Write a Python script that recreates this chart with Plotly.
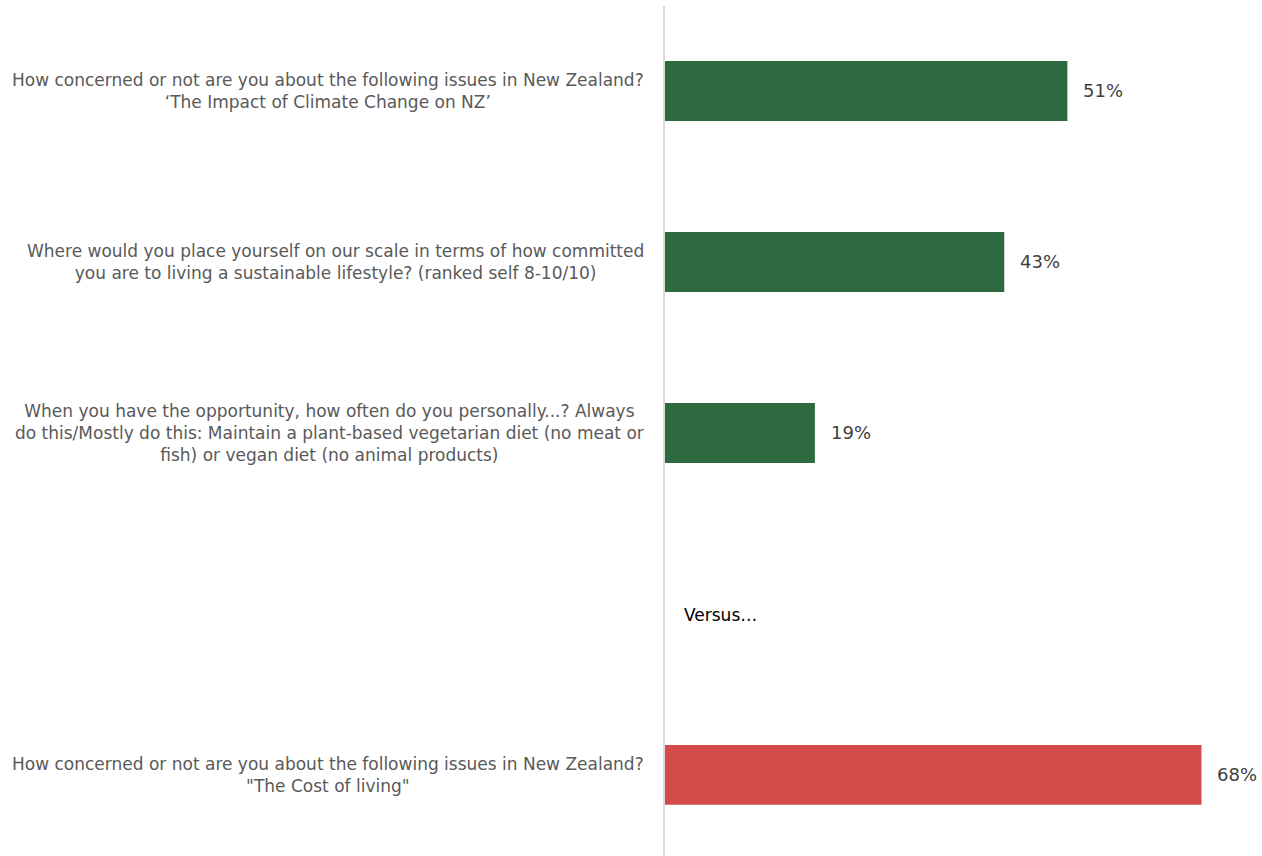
import plotly.graph_objects as go

# Survey questions (top to bottom) and share of respondents
questions = [
    "How concerned or not are you about the following issues in New Zealand?<br>‘The Impact of Climate Change on NZ’",
    "Where would you place yourself on our scale in terms of how committed<br>you are to living a sustainable lifestyle? (ranked self 8-10/10)",
    "When you have the opportunity, how often do you personally...? Always<br>do this/Mostly do this: Maintain a plant-based vegetarian diet (no meat or<br>fish) or vegan diet (no animal products)",
    "",
    "How concerned or not are you about the following issues in New Zealand?<br>\"The Cost of living\"",
]
values = [51, 43, 19, None, 68]
bar_colors = ["#2E6A3F", "#2E6A3F", "#2E6A3F", "#2E6A3F", "#D44B4C"]
divider_text = "Versus…"

positions = list(range(len(questions)))

fig = go.Figure(
    go.Bar(
        x=values,
        y=positions,
        orientation="h",
        width=0.35,
        marker=dict(color=bar_colors, line=dict(width=0)),
        hoverinfo="skip",
    )
)

annotations = []
for pos, q, v in zip(positions, questions, values):
    if q:
        annotations.append(dict(
            x=0, xref="paper", y=pos, yref="y",
            text=q, showarrow=False, xanchor="right", yanchor="middle",
            align="center", xshift=-19,
            font=dict(family="DejaVu Sans", size=17, color="#595959"),
        ))
    if v is not None:
        annotations.append(dict(
            x=v, xref="x", y=pos, yref="y",
            text=f"{v}%", showarrow=False, xanchor="left", yanchor="middle",
            xshift=14,
            font=dict(family="DejaVu Sans", size=18, color="#404040"),
        ))

annotations.append(dict(
    x=0, xref="x", y=3, yref="y", text=divider_text, showarrow=False,
    xanchor="left", yanchor="middle", xshift=17, yshift=-11,
    font=dict(family="DejaVu Sans", size=17, color="#000000"),
))

fig.update_layout(
    width=1262, height=856,
    margin=dict(l=665, r=0, t=6, b=0),
    paper_bgcolor="white", plot_bgcolor="white",
    showlegend=False,
    annotations=annotations,
    xaxis=dict(range=[0, 75.67], visible=False, fixedrange=True),
    yaxis=dict(
        range=[4.474, -0.497], showticklabels=False, showgrid=False,
        zeroline=False, showline=True, linecolor="#D9D9D9", linewidth=2,
        ticks="", fixedrange=True,
    ),
)

fig.write_html("out.html", config={"displayModeBar": False})
